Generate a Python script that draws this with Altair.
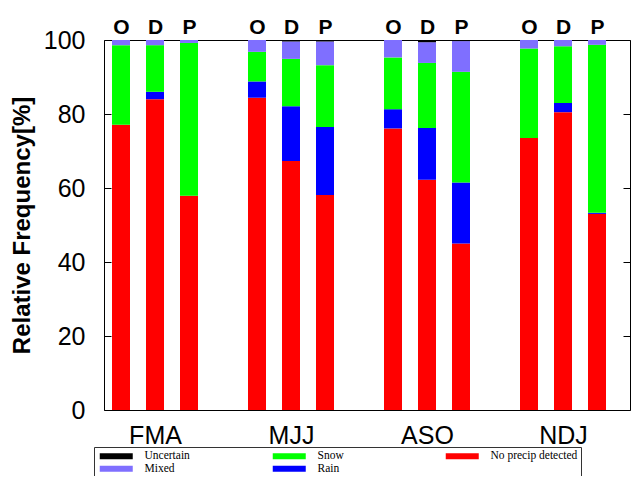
import json
import altair as alt
import pandas as pd

seasons = ["FMA", "MJJ", "ASO", "NDJ"]
sources = ["O", "D", "P"]

# values per bar, order: FMA O/D/P, MJJ O/D/P, ASO O/D/P, NDJ O/D/P  (percent)
no_precip = [77.1, 84.0, 57.9, 84.4, 67.3, 58.1, 76.1, 62.2, 45.0, 73.5, 80.5, 53.0]
rain      = [0.0, 2.0, 0.0, 4.4, 14.8, 18.4, 5.2, 14.0, 16.5, 0.0, 2.5, 0.3]
snow      = [21.5, 12.6, 41.3, 8.0, 12.8, 16.7, 14.0, 17.6, 29.9, 24.2, 15.3, 45.4]
mixed     = [1.4, 1.4, 0.8, 3.2, 4.7, 6.4, 4.7, 5.6, 8.3, 2.3, 1.7, 1.3]
uncertain = [0.0, 0.0, 0.0, 0.0, 0.4, 0.4, 0.0, 0.6, 0.3, 0.0, 0.0, 0.0]

classes = ["No precip detected", "Rain", "Snow", "Mixed", "Uncertain"]
series = [no_precip, rain, snow, mixed, uncertain]

legend_order = ["Uncertain", "Snow", "No precip detected", "Mixed", "Rain"]
legend_colors = ["#000000", "#00FF00", "#FF0000", "#7F6FFF", "#0000FF"]

rows = []
for k, (cls, vals) in enumerate(zip(classes, series)):
    for i, v in enumerate(vals):
        g, s = divmod(i, 3)
        rows.append({"pos": g * 4 + s + 0.5, "season": seasons[g], "source": sources[s],
                     "cls": cls, "k": k, "value": v})
df = pd.DataFrame(rows)

W, H = 526, 370
xscale = alt.Scale(domain=[0, W / 34], nice=False, zero=False, padding=0)
yscale = alt.Scale(domain=[0, 100], nice=False, padding=0)
yvals = [0, 20, 40, 60, 80, 100]

season_expr = f"{json.dumps(seasons)}[floor(datum.value / 4)]"
source_expr = f"{json.dumps(sources)}[floor(datum.value) % 4]"

bars = alt.Chart(df).mark_bar(width=18).encode(
    x=alt.X("pos:Q", scale=xscale,
            axis=alt.Axis(orient="bottom", values=[1.5, 5.5, 9.5, 13.5], labelExpr=season_expr,
                          ticks=False, tickSize=0, domain=False, grid=False, title=None,
                          labelFont="Liberation Sans", labelFontSize=25, labelColor="black",
                          labelPadding=13)),
    y=alt.Y("value:Q", stack="zero", scale=yscale,
            axis=alt.Axis(orient="left", values=yvals, ticks=False, tickSize=0, domain=False,
                          grid=False, labelFont="Liberation Sans", labelFontSize=25,
                          labelColor="black", labelPadding=19,
                          title="Relative Frequency[%]", titleFont="Liberation Sans",
                          titleFontSize=24, titleFontWeight="bold", titleColor="black",
                          titlePadding=9)),
    color=alt.Color("cls:N", scale=alt.Scale(domain=legend_order, range=legend_colors),
                    legend=alt.Legend(orient="none", legendX=-10, legendY=407,
                                      direction="horizontal", columns=3, gridAlign="all",
                                      title=None,
                                      symbolType="M-1,-1L10,-1L10,1L-1,1Z",
                                      symbolSize=36, symbolStrokeWidth=0, symbolOpacity=1,
                                      labelFont="Liberation Serif", labelFontSize=11.5,
                                      labelColor="black", labelOffset=36,
                                      columnPadding=38, rowPadding=0, padding=3,
                                      strokeColor="#333333")),
    order=alt.Order("k:Q", sort="ascending"),
)

top_ticks = alt.Chart(df).mark_point(opacity=0).encode(
    x=alt.X("pos:Q", scale=xscale,
            axis=alt.Axis(orient="top", values=sorted(set(df["pos"])), labelExpr=source_expr,
                          ticks=False, tickSize=0, domain=False, grid=False, title=None,
                          labelFont="Liberation Sans Narrow, Liberation Sans", labelFontSize=21,
                          labelFontWeight="bold", labelColor="black", labelPadding=3)),
    y=alt.Y("value:Q", scale=yscale,
            axis=alt.Axis(orient="left", values=yvals, offset=-7, tickSize=7, ticks=True,
                          tickColor="black", labels=False, domain=False, grid=False, title=None)),
)

right_ticks = alt.Chart(df).mark_point(opacity=0).encode(
    x=alt.X("pos:Q", scale=xscale, axis=None),
    y=alt.Y("value:Q", scale=yscale,
            axis=alt.Axis(orient="right", values=yvals, offset=-7, tickSize=7, ticks=True,
                          tickColor="black", labels=False, domain=False, grid=False, title=None)),
)

chart = alt.layer(bars, top_ticks, right_ticks).resolve_axis(
    x="independent", y="independent"
).properties(
    width=W, height=H,
    autosize=alt.AutoSizeParams(type="none"),
    padding={"left": 96, "top": 32, "right": 1, "bottom": 66},
).configure_view(stroke="black", strokeWidth=1)

chart.save("out.html", embed_options={"renderer": "svg", "actions": False})
